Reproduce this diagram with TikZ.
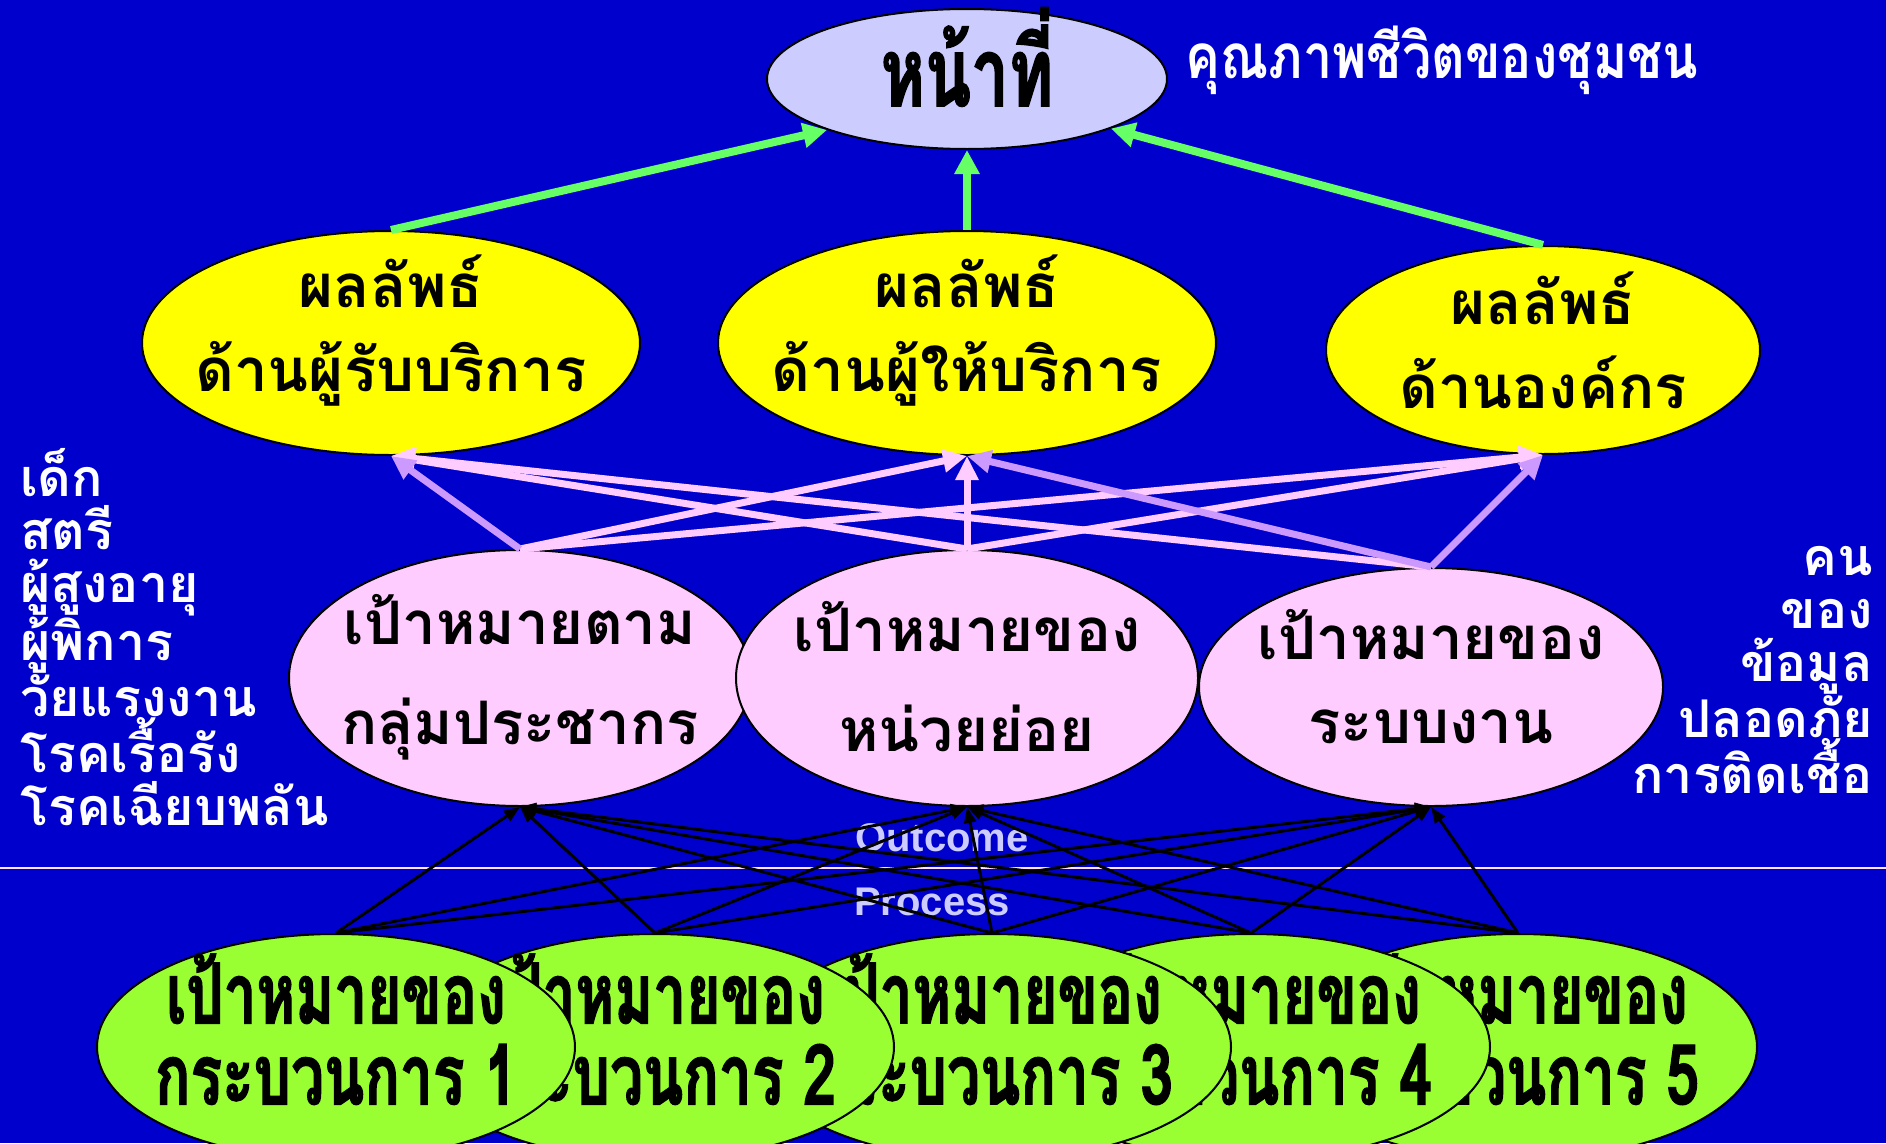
\documentclass[tikz,border=0pt]{standalone}
\usepackage{fontspec}
\usetikzlibrary{arrows.meta,shapes.geometric}
\newfontfamily\thai[Script=Thai]{Loma}
\newfontfamily\thaicond[Script=Thai,FakeStretch=0.7,FakeBold=1.5]{Loma}
\newfontfamily\thaicondb[Script=Thai,FakeStretch=0.84]{Loma}
\newfontfamily\arialb{Liberation Sans}
\definecolor{bg}{RGB}{0,0,204}
\definecolor{topfill}{RGB}{204,204,255}
\definecolor{yel}{RGB}{255,255,0}
\definecolor{pnk}{RGB}{255,204,255}
\definecolor{lav}{RGB}{204,153,255}
\definecolor{grn}{RGB}{153,255,51}
\definecolor{garr}{RGB}{102,255,102}
\definecolor{proc}{RGB}{204,204,255}
\tikzset{
  ell/.style={ellipse, draw=black, line width=2pt, inner sep=0pt},
  bigtxt/.style={font=\thai\bfseries\fontsize{60}{84}\selectfont, align=center, text=black, inner sep=0pt},
  pinktxt/.style={font=\thai\bfseries\fontsize{60}{100}\selectfont, align=center, text=black, inner sep=0pt},
  condtxt/.style={font=\thaicond\bfseries\fontsize{84}{81}\selectfont, align=center, text=black, inner sep=0pt},
  listtxt/.style={font=\thai\bfseries\fontsize{52}{53}\selectfont, text=white, inner sep=0pt},
  engtxt/.style={font=\arialb\bfseries\fontsize{40}{44}\selectfont, text=proc, inner sep=0pt},
  garrow/.style={draw=garr, line width=8pt, -{Triangle[length=24pt,width=24pt]}},
  parrow/.style={draw=pnk, line width=7pt, -{Triangle[length=24pt,width=22pt]}},
  larrow/.style={draw=lav, line width=7pt, -{Triangle[length=24pt,width=22pt]}},
  barrow/.style={draw=black, line width=3pt, -{Triangle[length=16pt,width=12pt]}},
}
\begin{document}
\begin{tikzpicture}[x=1pt,y=-1pt]
\fill[bg] (0,0) rectangle (1886,1143);
\useasboundingbox (0,0) rectangle (1886,1143);

% divider
\coordinate (dl) at (0,868);
\coordinate (dr) at (1886,868);
\draw[pnk!60!white, line width=2pt] (dl) -- (dr);

% top
\node[ell, fill=topfill, minimum width=400pt, minimum height=140pt] (top) at (967,79) {};
\node[font=\thaicond\bfseries\fontsize{96}{100}\selectfont, inner sep=0pt] (topt) at (967,57) {หน้าที่};
\node[font=\thaicondb\bfseries\fontsize{62}{70}\selectfont, text=white, inner sep=0pt] (qol) at (1442,60) {คุณภาพชีวิตของชุมชน};

% yellow
\node[ell, fill=yel, minimum width=498pt, minimum height=224pt] (y1) at (391,343) {};
\node[ell, fill=yel, minimum width=498pt, minimum height=224pt] (y2) at (967,343) {};
\node[ell, fill=yel, minimum width=434pt, minimum height=208pt] (y3) at (1543,350) {};
\node[bigtxt] (y1t) at (391,331) {ผลลัพธ์\\ด้านผู้รับบริการ};
\node[bigtxt] (y2t) at (967,331) {ผลลัพธ์\\ด้านผู้ให้บริการ};
\node[bigtxt] (y3t) at (1543,340) {ผลลัพธ์\\ด้านองค์กร};

% pink
\node[ell, fill=pnk, minimum width=462pt, minimum height=256pt] (p1) at (520,678) {};
\node[ell, fill=pnk, minimum width=464pt, minimum height=238pt] (p3) at (1431,687) {};
\node[ell, fill=pnk, minimum width=462pt, minimum height=256pt] (p2) at (967,678) {};
\node[pinktxt] (p1t) at (520,677) {เป้าหมายตาม\\กลุ่มประชากร};
\node[pinktxt] (p2t) at (967,677) {เป้าหมายของ\\หน่วยย่อย};
\node[bigtxt] (p3t) at (1431,677) {เป้าหมายของ\\ระบบงาน};

% green (back to front)
\node[ell, fill=grn, minimum width=478pt, minimum height=226pt] (g5) at (1518,1047) {};
\node[condtxt] (g5t) at (1518,1029) {เป้าหมายของ\\กระบวนการ 5};
\node[ell, fill=grn, minimum width=478pt, minimum height=226pt] (g4) at (1251,1047) {};
\node[condtxt] (g4t) at (1251,1029) {เป้าหมายของ\\กระบวนการ 4};
\node[ell, fill=grn, minimum width=478pt, minimum height=226pt] (g3) at (992,1047) {};
\node[condtxt] (g3t) at (992,1029) {เป้าหมายของ\\กระบวนการ 3};
\node[ell, fill=grn, minimum width=478pt, minimum height=226pt] (g2) at (655,1047) {};
\node[condtxt] (g2t) at (655,1029) {เป้าหมายของ\\กระบวนการ 2};
\node[ell, fill=grn, minimum width=478pt, minimum height=226pt] (g1) at (336,1047) {};
\node[condtxt] (g1t) at (336,1029) {เป้าหมายของ\\กระบวนการ 1};

% side lists
\node[listtxt, align=left, anchor=north west] (left) at (20,448) {เด็ก\\สตรี\\ผู้สูงอายุ\\ผู้พิการ\\วัยแรงงาน\\โรคเรื้อรัง\\โรคเฉียบพลัน};
\node[listtxt, align=right, anchor=north east] (right) at (1873,546) {คน\\ของ\\ข้อมูล\\ปลอดภัย\\การติดเชื้อ};

% Outcome / Process
\node[engtxt] (oc) at (942,838) {Outcome};
\node[engtxt] (pr) at (932,902) {Process};

% green arrows
\draw[garrow] (y1.north) -- (top.200);
\draw[garrow] (y2.north) -- (top.south);
\draw[garrow] (y3.north) -- (top.-19);

% pink arrows
\draw[parrow] (p1.north) -- (y2.south);
\draw[parrow] (p1.north) -- (y3.south);
\draw[parrow] (p2.north) -- (y1.south);
\draw[parrow] (p2.north) -- (y2.south);
\draw[parrow] (p2.north) -- (y3.south);
\draw[parrow] (p3.north) -- (y1.south);
\draw[larrow] (p1.north) -- (y1.south);
\draw[larrow] (p3.north) -- (y2.south);
\draw[larrow] (p3.north) -- (y3.south);

% black arrows
\foreach \g in {g1,g2,g3,g4,g5}{
  \foreach \p in {p1,p2,p3}{
    \draw[barrow] (\g.north) -- (\p.south);
  }
}
\end{tikzpicture}
\end{document}
